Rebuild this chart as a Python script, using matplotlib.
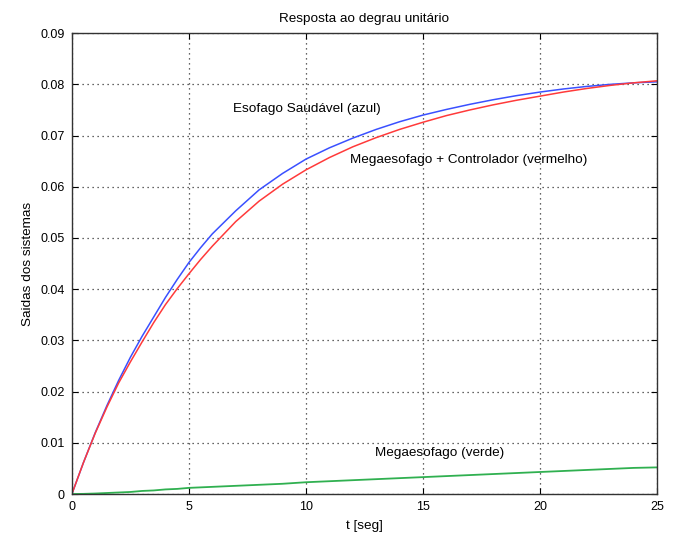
import matplotlib
matplotlib.use("Agg")
import matplotlib.pyplot as plt
from matplotlib.ticker import FixedLocator, FixedFormatter

t = [0, 0.5, 1, 1.5, 2, 2.5, 3, 3.5, 4, 4.5, 5, 5.5, 6,
     7, 8, 9, 10, 11, 12, 13, 14, 15, 16, 17, 18, 19, 20, 21, 22, 23, 24, 25]
blue = [0, 0.0062, 0.0120, 0.0173, 0.0222, 0.0267, 0.0308, 0.0346, 0.0384, 0.0419,
        0.0452, 0.0481, 0.0508,
        0.0553, 0.0594, 0.0626, 0.0654, 0.0676, 0.0695, 0.0712, 0.0727, 0.0740,
        0.0751, 0.0761, 0.0770, 0.0778, 0.0785, 0.0791, 0.0796, 0.0800, 0.0803, 0.0805]
red = [0, 0.0062, 0.0119, 0.0170, 0.0217, 0.0258, 0.0297, 0.0335, 0.0370, 0.0401,
       0.0430, 0.0458, 0.0484,
       0.0532, 0.0572, 0.0605, 0.0633, 0.0657, 0.0678, 0.0696, 0.0712, 0.0726,
       0.0739, 0.0750, 0.0760, 0.0769, 0.0777, 0.0785, 0.0792, 0.0798, 0.0803, 0.0807]
green = [0, 0.00003, 0.0001, 0.0002, 0.0003, 0.0004, 0.0006, 0.0007, 0.0009, 0.0010,
         0.0012, 0.0013, 0.0014,
         0.0016, 0.0018, 0.0020, 0.0023, 0.0025, 0.0027, 0.0029, 0.0031, 0.0033,
         0.0035, 0.0037, 0.0039, 0.0041, 0.0043, 0.0045, 0.0047, 0.0049, 0.0051, 0.0052]

xticks = [0, 5, 10, 15, 20, 25]
yticks = [0, 0.01, 0.02, 0.03, 0.04, 0.05, 0.06, 0.07, 0.08, 0.09]
ytick_labels = ["0", "0.01", "0.02", "0.03", "0.04", "0.05", "0.06", "0.07", "0.08", "0.09"]

title = "Resposta ao degrau unitário"
xlabel = "t [seg]"
ylabel = "Saidas dos sistemas"
ann_blue = "Esofago Saudável (azul)"
ann_red = "Megaesofago + Controlador (vermelho)"
ann_green = "Megaesofago (verde)"

plt.rcParams['font.family'] = ['Liberation Sans', 'DejaVu Sans']
fs = 9
fs_txt = 9.7

fig = plt.figure(figsize=(6.78, 5.35), dpi=100)
ax = fig.add_axes([0.106, 0.0766, 0.863, 0.8614])

ax.plot(t, green, color='#30b050', lw=1.3)
ax.plot(t, blue, color='#3a50ff', lw=1.1)
ax.plot(t, red, color='#ff3a3a', lw=1.1)

ax.set_xlim(0, 25)
ax.set_ylim(0, 0.09)
ax.xaxis.set_major_locator(FixedLocator(xticks))
ax.yaxis.set_major_locator(FixedLocator(yticks))
ax.yaxis.set_major_formatter(FixedFormatter(ytick_labels))
ax.tick_params(direction='in', top=True, right=True, labelsize=fs, length=4, width=0.8, pad=5)
ax.grid(True, linestyle=(0, (1, 3)), color='#333333', linewidth=0.9)
for s in ax.spines.values():
    s.set_linewidth(1.0)
    s.set_color('#333333')

ax.set_title(title, fontsize=fs_txt, pad=8)
ax.set_xlabel(xlabel, fontsize=fs_txt, labelpad=5)
ax.set_ylabel(ylabel, fontsize=fs_txt, labelpad=5)

ax.text(6.9, 0.0752, ann_blue, fontsize=fs_txt, va='center', ha='left')
ax.text(11.9, 0.0652, ann_red, fontsize=fs_txt, va='center', ha='left')
ax.text(12.95, 0.0080, ann_green, fontsize=fs_txt, va='center', ha='left')

fig.savefig("out.png", dpi=100)
